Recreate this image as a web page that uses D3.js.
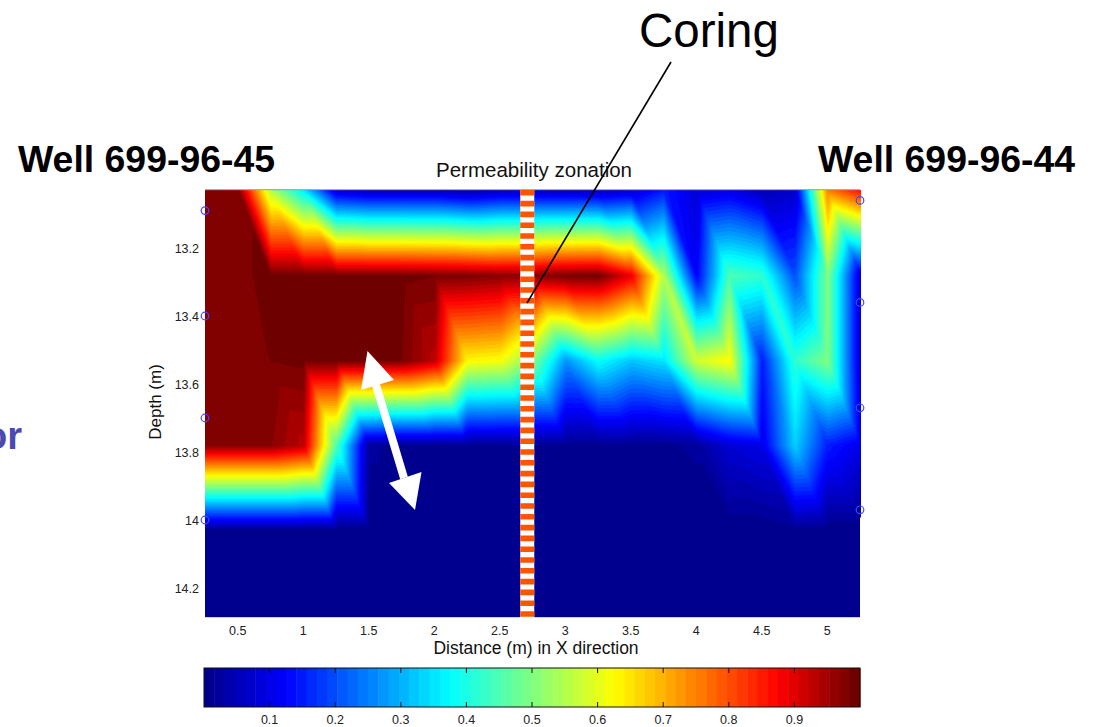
<!DOCTYPE html>
<html><head><meta charset="utf-8">
<script src="https://cdn.jsdelivr.net/npm/d3@7"></script>
<style>
html,body{margin:0;padding:0;background:#fff}
svg{display:block}
text{font-family:"Liberation Sans",Arial,sans-serif}
</style></head><body>
<svg id="c" width="1093" height="727"></svg>
<script>
// Data
const distances = d3.range(21).map(i => 0.25 + i * 0.25);
const depths = [13.03, 13.28, 13.53, 13.78, 14.03, 14.285];
const row0 = [.975,.98,.55,.36,.08,.06,.06,.06,.04,.06,.06,.06,.06,.08,.15,.08,.10,.05,.07,.75,.86];
const row1 = [.975,.98,.99,.99,.99,.99,.99,.985,.98,.97,.97,.985,.99,.89,.55,.12,.45,.42,.20,.50,.08];
const row2 = [.975,.97,.985,.99,.99,.99,.985,.93,.63,.62,.50,.27,.38,.32,.35,.58,.63,.15,.42,.50,.08];
const row3 = [.97,.97,.97,.93,.45,.02,.01,.01,.01,.01,.01,.01,.01,.01,.01,.02,.08,.10,.33,.15,.10];
const row4 = [0,0,0,0,0,0,0,0,0,0,0,0,0,0,0,0,0,0,.01,0,0];
const row5 = [0,0,0,0,0,0,0,0,0,0,0,0,0,0,0,0,0,0,0,0,0];
const gridRows = [row0, row1, row2, row3, row4, row5];
const xTicks = [0.5,1,1.5,2,2.5,3,3.5,4,4.5,5];
const yTicks = [13.2,13.4,13.6,13.8,14,14.2];
const barTicks = [0.1,0.2,0.3,0.4,0.5,0.6,0.7,0.8,0.9];
const leftWellDepths = [13.09,13.40,13.70,14.0];
const rightWellDepths = [13.06,13.36,13.67,13.97];
const coringDistance = 2.71;

const svg = d3.select("#c");
const x = d3.scaleLinear().domain([0.25,5.25]).range([205,860]);
const y = d3.scaleLinear().domain([13.2,14.2]).range([248,588]);
const plotTop = y(depths[0]), plotBottom = y(depths[5]);

// jet colormap, 64 levels
const jet = d3.scaleLinear()
  .domain([0,.125,.375,.625,.875,1])
  .range(["rgb(0,0,135)","rgb(0,0,255)","rgb(0,255,255)","rgb(255,255,0)","rgb(255,0,0)","rgb(100,0,0)"]);
const levels = d3.range(64);
const levelColor = l => jet((l + .5) / 64);

// piecewise linear shading over triangles (diagonal top-left to bottom-right)
const w = 656, h = Math.round(plotBottom - plotTop) + 1;
const field = new Float64Array(w * h);
const colIdx = d3.scaleLinear().domain(d3.extent(distances)).range([0, distances.length - 1]);
for (let py = 0; py < h; py++) {
  const d = y.invert(plotTop + py);
  let r = Math.min(d3.bisectRight(depths, d) - 1, depths.length - 2); r = Math.max(r, 0);
  const v = Math.min(1, (d - depths[r]) / (depths[r+1] - depths[r]));
  for (let px = 0; px < w; px++) {
    const cf = colIdx(x.invert(205 + px));
    const c = Math.max(0, Math.min(Math.floor(cf), distances.length - 2));
    const u = Math.min(1, Math.max(0, cf - c));
    const TL = gridRows[r][c], TR = gridRows[r][c+1], BL = gridRows[r+1][c], BR = gridRows[r+1][c+1];
    field[py * w + px] = u >= v ? TL + u * (TR - TL) + v * (BR - TR)
                                : TL + v * (BL - TL) + u * (BR - BL);
  }
}
const contours = d3.contours().size([w, h]).thresholds(levels.slice(1).map(l => l / 64));
const plot = svg.append("g").attr("transform", `translate(205,${plotTop})`);
plot.append("rect").attr("width", w - 1).attr("height", h - 1).attr("fill", levelColor(0));
plot.selectAll("path.band").data(contours(field)).join("path").attr("class", "band")
  .attr("d", d3.geoPath()).attr("fill", (d, i) => levelColor(i + 1));

// plot frame top edge
svg.append("line").attr("x1",205).attr("x2",860).attr("y1",plotTop-.5).attr("y2",plotTop-.5).attr("stroke","#999").attr("stroke-width",1);

// axes tick labels
svg.append("g").selectAll("text").data(xTicks).join("text")
  .attr("x", d => x(d)).attr("y", 635).attr("text-anchor","middle")
  .attr("font-size",12.5).attr("fill","#222").text(d => d);
svg.append("g").selectAll("text").data(yTicks).join("text")
  .attr("x", 199).attr("y", d => y(d) + 4.5).attr("text-anchor","end")
  .attr("font-size",12.5).attr("fill","#222").text(d => d);

// well markers
const wells = leftWellDepths.map(d => [0.25, d]).concat(rightWellDepths.map(d => [5.25, d]));
svg.append("g").selectAll("circle").data(wells).join("circle")
  .attr("cx", d => x(d[0])).attr("cy", d => y(d[1])).attr("r", 3.8)
  .attr("fill","none").attr("stroke","#4646f5").attr("stroke-width",1.2);

// coring column
svg.append("line").attr("x1",x(coringDistance)).attr("x2",x(coringDistance)).attr("y1",190).attr("y2",622)
  .attr("stroke","#fff").attr("stroke-width",14);
svg.append("line").attr("x1",x(coringDistance)).attr("x2",x(coringDistance)).attr("y1",190).attr("y2",622)
  .attr("stroke","#ff5500").attr("stroke-width",14).attr("stroke-dasharray","5.6 5.2");

// arrow
svg.append("path").attr("d","M376,385L404,478").attr("stroke","#fff").attr("stroke-width",8).attr("fill","none");
svg.append("path").attr("d","M367.5,351L394,380L361,390Z").attr("fill","#fff");
svg.append("path").attr("d","M421.5,472L389,483L415,510Z").attr("fill","#fff");

// coring leader
svg.append("line").attr("x1",671).attr("y1",62).attr("x2",527).attr("y2",303).attr("stroke","#000").attr("stroke-width",1.6);

// text
svg.append("text").attr("x",709).attr("y",47).attr("text-anchor","middle").attr("font-size",47.5).attr("fill","#000").text("Coring");
svg.append("text").attr("x",18).attr("y",172).attr("font-size",37.4).attr("font-weight","bold").attr("fill","#000").text("Well 699-96-45");
svg.append("text").attr("x",818).attr("y",172).attr("font-size",37.4).attr("font-weight","bold").attr("fill","#000").text("Well 699-96-44");
svg.append("text").attr("x",22).attr("y",449).attr("text-anchor","end").attr("font-size",38).attr("font-weight","bold").attr("fill","#4a4ab0").text("or");
svg.append("text").attr("x",534).attr("y",177).attr("text-anchor","middle").attr("font-size",20.5).attr("fill","#111").text("Permeability zonation");
svg.append("text").attr("x",536).attr("y",654).attr("text-anchor","middle").attr("font-size",17.5).attr("fill","#111").text("Distance (m) in X direction");
svg.append("text").attr("transform","translate(161,402) rotate(-90)").attr("text-anchor","middle").attr("font-size",17).attr("fill","#111").text("Depth (m)");

// colorbar
const cb = d3.scaleLinear().domain([0,1]).range([204,860]);
const cbTop = 668, cbBot = 707;
svg.append("g").selectAll("rect").data(levels).join("rect")
  .attr("x", l => cb(l/64)).attr("width", (cb(1)-cb(0))/64 + .5)
  .attr("y", cbTop).attr("height", cbBot-cbTop).attr("fill", levelColor);
svg.append("rect").attr("x",204).attr("y",cbTop).attr("width",656).attr("height",cbBot-cbTop)
  .attr("fill","none").attr("stroke","#111").attr("stroke-width",1);
const tk = svg.append("g").selectAll("g").data(barTicks).join("g");
tk.append("line").attr("x1",d=>cb(d)).attr("x2",d=>cb(d)).attr("y1",cbTop).attr("y2",cbTop+5).attr("stroke","#111");
tk.append("line").attr("x1",d=>cb(d)).attr("x2",d=>cb(d)).attr("y1",cbBot-5).attr("y2",cbBot).attr("stroke","#111");
tk.append("text").attr("x",d=>cb(d)).attr("y",724).attr("text-anchor","middle").attr("font-size",12.5).attr("fill","#222").text(d=>d);
</script>
</body></html>
